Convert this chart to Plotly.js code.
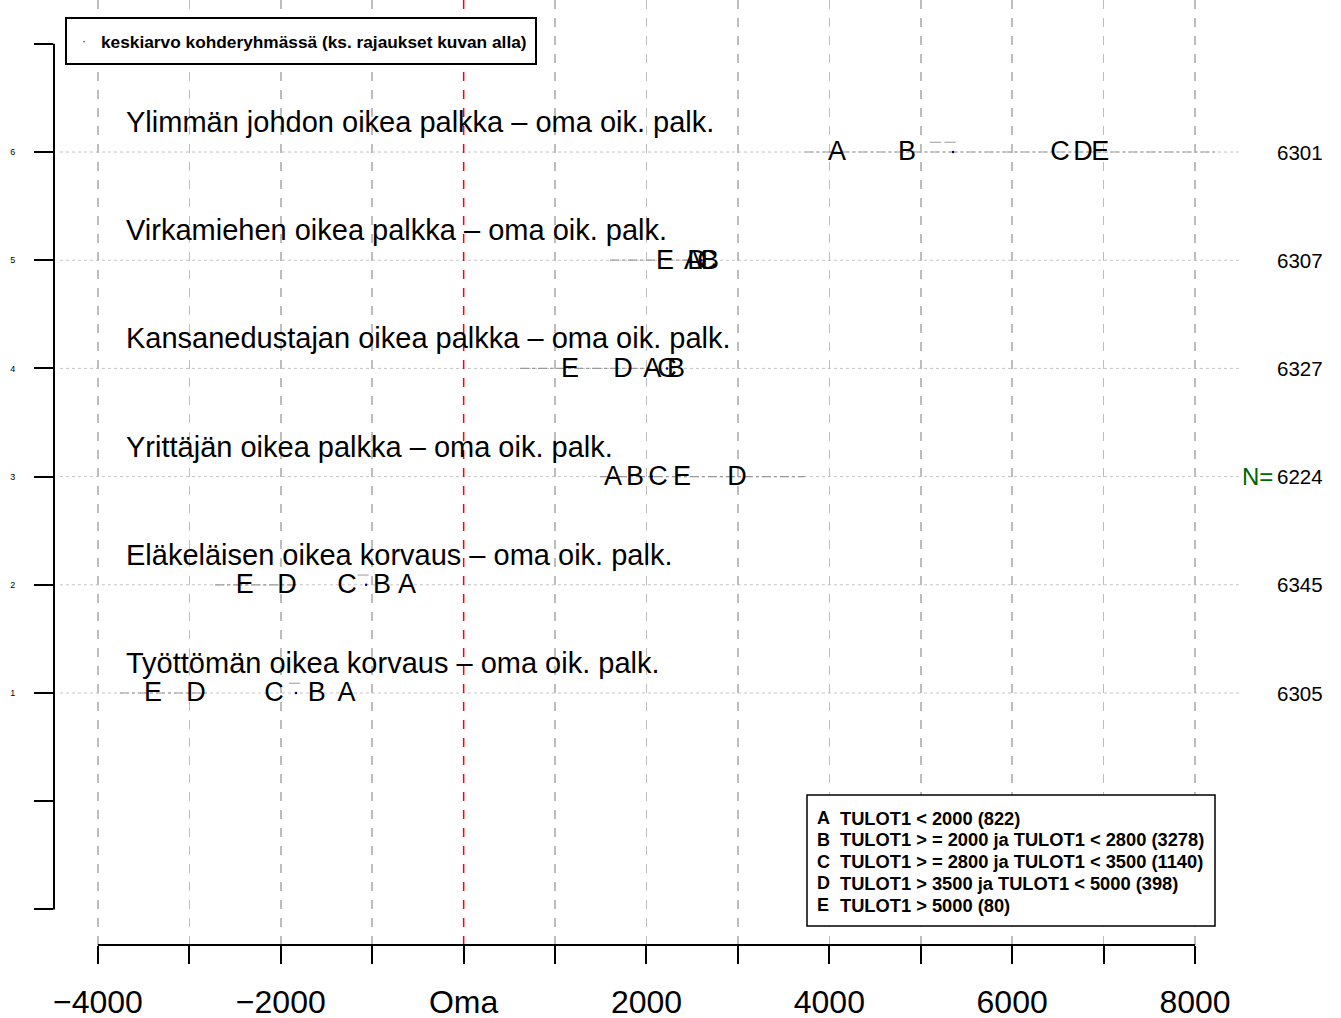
<!DOCTYPE html>
<html>
<head>
<meta charset="utf-8">
<script src="https://cdn.plot.ly/plotly-3.0.1.min.js"></script>
<style>html,body{margin:0;padding:0;background:#fff}</style>
</head>
<body>
<div id="chart" style="width:1341px;height:1018px"></div>
<script>
// ---- data ----
const rowY = [1, 2, 3, 4, 5, 6];
const rowLabels = [
  'Työttömän oikea korvaus – oma oik. palk.',
  'Eläkeläisen oikea korvaus – oma oik. palk.',
  'Yrittäjän oikea palkka – oma oik. palk.',
  'Kansanedustajan oikea palkka – oma oik. palk.',
  'Virkamiehen oikea palkka – oma oik. palk.',
  'Ylimmän johdon oikea palkka – oma oik. palk.'
];
const rowN = [6305, 6345, 6224, 6327, 6307, 6301];
const groupNames = ['A', 'B', 'C', 'D', 'E'];
const groupA = [-1280, -620, 1634, 2062, 2509, 4083];
const groupB = [-1607, -893, 1874, 2323, 2694, 4851];
const groupC = [-2075, -1276, 2126, 2224, 2661, 6523];
const groupD = [-2929, -1932, 2990, 1744, 2552, 6775];
const groupE = [-3399, -2393, 2389, 1163, 2202, 6963];
const meanAll = [-1833, -1067, 2060, 2224, 2600, 5353];
const rangeLo = [-3760, -2720, 1490, 617, 1600, 3730];
const rangeHi = [-2800, -1820, 3730, 2040, 2480, 8220];
const ciMarkX = [-1850, -1100, 5160, 5320];
const ciMarkY = [1, 2, 6, 6];
const xTickVals = [-4000, -3000, -2000, -1000, 0, 1000, 2000, 3000, 4000, 5000, 6000, 7000, 8000];
const xTickText = ['−4000', '', '−2000', '', 'Oma', '', '2000', '', '4000', '', '6000', '', '8000'];
const yTickVals = [-1, 0, 1, 2, 3, 4, 5, 6, 7];
const yTickText = ['', '', '1', '2', '3', '4', '5', '6', ''];
const legendText = 'keskiarvo kohderyhmässä (ks. rajaukset kuvan alla)';
const groupDefs = [
  'TULOT1 < 2000 (822)',
  'TULOT1 > = 2000 ja TULOT1 < 2800 (3278)',
  'TULOT1 > = 2800 ja TULOT1 < 3500 (1140)',
  'TULOT1 > 3500 ja TULOT1 < 5000 (398)',
  'TULOT1 > 5000 (80)'
];

// ---- layout helpers (pixel -> paper) ----
const W = 1341, H = 1018, ML = 54, MB = 73, MT = 0, MR = 0;
const PW = W - ML - MR, PH = H - MT - MB;
const px = x => (x - ML) / PW;
const py = y => (H - MB - y) / PH;
const FONT = 'Liberation Sans, Arial, Helvetica, sans-serif';

const groups = [groupA, groupB, groupC, groupD, groupE];
const traces = [];

// range segments (dash-dot)
rowY.forEach((y, i) => {
  traces.push({
    x: [rangeLo[i], rangeHi[i]], y: [y, y], mode: 'lines', type: 'scatter',
    line: {color: '#9a9a9a', width: 1.2, dash: 'dashdot'}, hoverinfo: 'skip', showlegend: false
  });
});
// small CI marks
traces.push({
  x: ciMarkX, y: ciMarkY.map(v => v + 0.09), mode: 'markers', type: 'scatter',
  marker: {symbol: 'line-ew', size: 8, line: {color: '#aaaaaa', width: 1.2}},
  hoverinfo: 'skip', showlegend: false
});
// group letters
groups.forEach((g, k) => {
  traces.push({
    x: g, y: rowY.map(v => v - 0.015), mode: 'text', type: 'scatter',
    text: rowY.map(() => groupNames[k]), textposition: 'middle center',
    textfont: {family: FONT, size: 27, color: '#000'},
    hoverinfo: 'skip', showlegend: false, cliponaxis: false
  });
});
// means
traces.push({
  x: meanAll, y: rowY, mode: 'markers', type: 'scatter',
  marker: {color: '#00008b', size: 2.5}, hoverinfo: 'skip', showlegend: false
});

const shapes = [];
// horizontal dotted row lines
rowY.forEach(y => {
  shapes.push({type: 'line', xref: 'x', yref: 'y', x0: -4416, x1: 8492, y0: y, y1: y,
    line: {color: '#c4c4c4', width: 1, dash: 'dot'}, layer: 'below'});
});
// red zero line
shapes.push({type: 'line', xref: 'x', yref: 'paper', x0: 0, x1: 0, y0: 0, y1: 1,
  line: {color: '#ff0000', width: 1.5, dash: 'dash'}});
// axis lines
shapes.push({type: 'line', xref: 'x', yref: 'paper', x0: xTickVals[0], x1: xTickVals[xTickVals.length - 1], y0: 0, y1: 0,
  line: {color: '#000', width: 2}});
shapes.push({type: 'line', xref: 'paper', yref: 'y', x0: 0, x1: 0, y0: yTickVals[0], y1: yTickVals[yTickVals.length - 1],
  line: {color: '#000', width: 2}});
// legend boxes
shapes.push({type: 'rect', xref: 'paper', yref: 'paper', x0: px(66), x1: px(536), y0: py(64), y1: py(18),
  line: {color: '#000', width: 2}, fillcolor: '#fff'});
shapes.push({type: 'rect', xref: 'paper', yref: 'paper', x0: px(807), x1: px(1215), y0: py(926), y1: py(795),
  line: {color: '#000', width: 1.5}, fillcolor: '#fff'});

const annotations = [];
rowY.forEach((y, i) => {
  annotations.push({xref: 'paper', yref: 'y', x: px(124), y: y + 0.277, text: rowLabels[i],
    showarrow: false, xanchor: 'left', yanchor: 'middle', font: {family: FONT, size: 29, color: '#000'}});
  annotations.push({xref: 'paper', yref: 'y', x: px(1325), y: y, text: String(rowN[i]),
    showarrow: false, xanchor: 'right', yanchor: 'middle', font: {family: FONT, size: 20.5, color: '#000'}});
});
annotations.push({xref: 'paper', yref: 'y', x: px(1275), y: 3, text: 'N=',
  showarrow: false, xanchor: 'right', yanchor: 'middle', font: {family: FONT, size: 24, color: '#006400'}});
annotations.push({xref: 'paper', yref: 'paper', x: px(99), y: py(42), text: legendText,
  showarrow: false, xanchor: 'left', yanchor: 'middle', font: {family: FONT, size: 17.3, color: '#000', weight: 'bold'}});
annotations.push({xref: 'paper', yref: 'paper', x: px(84), y: py(41), text: '·',
  showarrow: false, xanchor: 'center', yanchor: 'middle', font: {family: FONT, size: 12, color: '#00008b'}});
groupDefs.forEach((t, k) => {
  const yy = 818 + k * 21.8;
  annotations.push({xref: 'paper', yref: 'paper', x: px(815), y: py(yy), text: groupNames[k],
    showarrow: false, xanchor: 'left', yanchor: 'middle', font: {family: FONT, size: 18, color: '#000', weight: 'bold'}});
  annotations.push({xref: 'paper', yref: 'paper', x: px(838), y: py(yy), text: t,
    showarrow: false, xanchor: 'left', yanchor: 'middle', font: {family: FONT, size: 18.3, color: '#000', weight: 'bold'}});
});

const layout = {
  width: W, height: H,
  margin: {l: ML, r: MR, t: MT, b: MB, pad: 0},
  paper_bgcolor: '#fff', plot_bgcolor: '#fff',
  showlegend: false,
  font: {family: FONT},
  xaxis: {
    range: [-4481, 9597], tickmode: 'array', tickvals: xTickVals, ticktext: xTickText,
    showgrid: true, gridcolor: '#bdbdbd', griddash: 'dash', gridwidth: 1.5,
    zeroline: false, showline: false,
    ticks: 'outside', ticklen: 18, tickwidth: 2, tickcolor: '#000',
    tickfont: {family: FONT, size: 32, color: '#000'}, ticklabelstandoff: 11
  },
  yaxis: {
    range: [-1.329, 7.405], tickmode: 'array', tickvals: yTickVals, ticktext: yTickText,
    showgrid: false, zeroline: false, showline: false,
    ticks: 'outside', ticklen: 19, tickwidth: 2, tickcolor: '#000',
    tickfont: {family: FONT, size: 9, color: '#000'}, ticklabelstandoff: 17
  },
  shapes: shapes,
  annotations: annotations
};

Plotly.newPlot('chart', traces, layout, {displayModeBar: false, staticPlot: true});
</script>
</body>
</html>
